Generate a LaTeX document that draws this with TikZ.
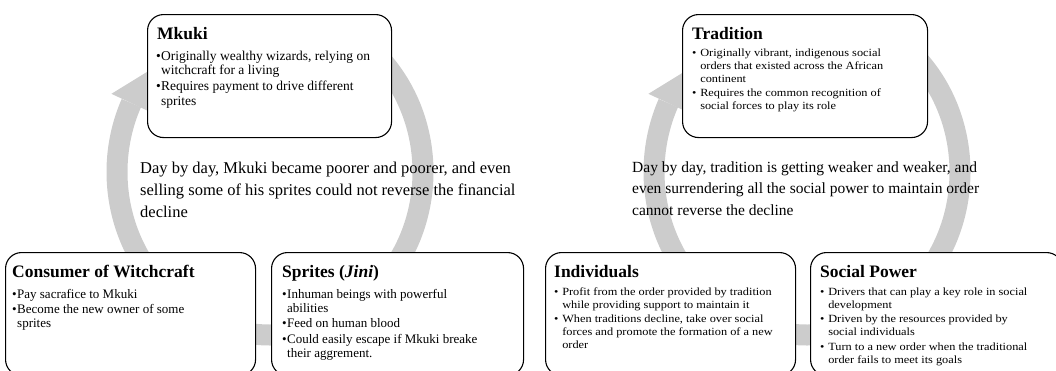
\documentclass[tikz,border=0pt]{standalone}
\usepackage{fontspec}
\setmainfont{Liberation Serif}
\newfontfamily\wideserif[FakeStretch=1.12]{Liberation Serif}
\usetikzlibrary{calc}
\definecolor{ringgray}{HTML}{CCCCCC}
\newdimen\bw \bw=5pt
\newcommand\bl[1]{\hbox{\makebox[\bw][l]{\textbullet}#1}}
\newcommand\cl[1]{\hbox{\hspace*{\bw}#1}}
\newcommand\bgap{\vskip 1.5pt}
\begin{document}
\begin{tikzpicture}[x=1pt,y=-1pt,
  card/.style={draw=black, line width=1.1pt, rounded corners=16pt, fill=white, inner sep=0pt, anchor=north west},
  ring/.style={draw=ringgray, line width=21pt},
  head/.style={fill=ringgray},
  ttl/.style={anchor=base west, inner sep=0pt, font=\fontsize{17.5}{20}\selectfont\bfseries},
  mtxt/.style={anchor=base west, inner sep=0pt, font=\fontsize{13.5}{14.5}\selectfont},
  ltxt/.style={anchor=base west, inner sep=0pt, font=\fontsize{13}{14}\selectfont},
  rtxt/.style={anchor=base west, inner sep=0pt, font=\wideserif\fontsize{11}{13}\selectfont},
  midl/.style={anchor=base west, inner sep=0pt, font=\fontsize{16.5}{22}\selectfont},
  midr/.style={anchor=base west, inner sep=0pt, font=\fontsize{15.5}{21.5}\selectfont},
]
\path[use as bounding box] (0,0) rectangle (1056,370);
\clip (0,0) rectangle (1056,370);

% ---------- left cycle ----------
\coordinate (cL) at (270,172);
\draw[ring] ($(cL)+({153*cos(-45)},{163*sin(-45)})$) arc[start angle=-45, end angle=205, x radius=153, y radius=163];
\fill[head] ($(cL)+({175*cos(205)},{185*sin(205)})$) -- ($(cL)+({153*cos(219)},{163*sin(219)})$) -- ($(cL)+({131*cos(205)},{141*sin(205)})$) -- cycle;

\node[card, minimum width=244pt, minimum height=123pt] (mkuki) at (147,14) {};
\node[card, minimum width=250pt, minimum height=123pt] (consumer) at (5,252) {};
\node[card, minimum width=252pt, minimum height=123pt] (sprites) at (271,252) {};

\node[ttl] (mkukiT) at (157,39) {Mkuki};
\node[mtxt] (mkukiB) at (156,60) {\vtop{%
  \bl{Originally wealthy wizards, relying on}
  \cl{witchcraft for a living}\bgap
  \bl{Requires payment to drive different}
  \cl{sprites}}};

\node[ttl] (consumerT) at (12,277) {Consumer of Witchcraft};
\node[ltxt] (consumerB) at (12,298) {\vtop{%
  \bl{Pay sacrafice to Mkuki}\bgap
  \bl{Become the new owner of some}
  \cl{sprites}}};

\node[ttl] (spritesT) at (282,277) {Sprites (\textit{Jini})};
\node[ltxt] (spritesB) at (282,298) {\vtop{%
  \bl{Inhuman beings with powerful}
  \cl{abilities}\bgap
  \bl{Feed on human blood}\bgap
  \bl{Could easily escape if Mkuki breake}
  \cl{their aggrement.}}};

\node[midl] (midL) at (140,173) {\vtop{%
  \hbox{Day by day, Mkuki became poorer and poorer, and even}
  \hbox{selling some of his sprites could not reverse the financial}
  \hbox{decline}}};

% ---------- right cycle ----------
\coordinate (cR) at (807,172);
\draw[ring] ($(cR)+({153*cos(-45)},{163*sin(-45)})$) arc[start angle=-45, end angle=205, x radius=153, y radius=163];
\fill[head] ($(cR)+({175*cos(205)},{185*sin(205)})$) -- ($(cR)+({153*cos(219)},{163*sin(219)})$) -- ($(cR)+({131*cos(205)},{141*sin(205)})$) -- cycle;

\node[card, minimum width=245pt, minimum height=123pt] (tradition) at (682,14) {};
\node[card, minimum width=250pt, minimum height=123pt] (individuals) at (545,252) {};
\node[card, minimum width=252pt, minimum height=123pt] (power) at (810,252) {};

\node[ttl] (traditionT) at (692,39) {Tradition};
\node[rtxt] (traditionB) at (692,56) {\vtop{%
  \bl{ Originally vibrant, indigenous social}
  \cl{ orders that existed across the African}
  \cl{ continent}\bgap
  \bl{ Requires the common recognition of}
  \cl{ social forces to play its role}}};

\node[ttl] (individualsT) at (554,277) {Individuals};
\node[rtxt] (individualsB) at (554,295) {\vtop{%
  \bl{ Profit from the order provided by tradition}
  \cl{ while providing support to maintain it}\bgap
  \bl{ When traditions decline, take over social}
  \cl{ forces and promote the formation of a new}
  \cl{ order}}};

\node[ttl] (powerT) at (820,277) {Social Power};
\node[rtxt] (powerB) at (820,295) {\vtop{%
  \bl{ Drivers that can play a key role in social}
  \cl{ development}\bgap
  \bl{ Driven by the resources provided by}
  \cl{ social individuals}\bgap
  \bl{ Turn to a new order when the traditional}
  \cl{ order fails to meet its goals}}};

\node[midr] (midR) at (632,172) {\vtop{%
  \hbox{Day by day, tradition is getting weaker and weaker, and}
  \hbox{even surrendering all the social power to maintain order}
  \hbox{cannot reverse the decline}}};
\end{tikzpicture}
\end{document}
